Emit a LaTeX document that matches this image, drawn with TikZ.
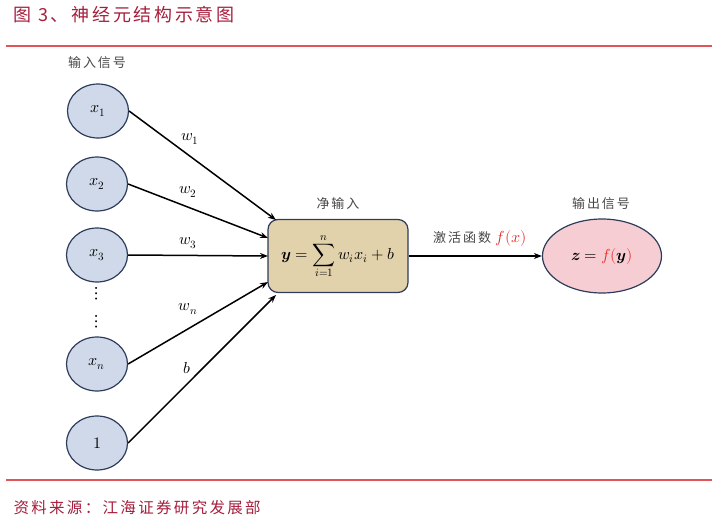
\documentclass[tikz,border=0pt]{standalone}
\usepackage{fontspec}
\usepackage{unicode-math}
\setmathfont{Latin Modern Math}
\newfontfamily\cjk[LetterSpace=15]{Noto Sans CJK SC}
\usetikzlibrary{arrows.meta,shapes.geometric}
\definecolor{titlered}{RGB}{165,30,60}
\definecolor{rulered}{RGB}{225,85,90}
\definecolor{inblue}{RGB}{207,217,234}
\definecolor{edgeblue}{RGB}{45,60,90}
\definecolor{boxtan}{RGB}{226,210,172}
\definecolor{outpink}{RGB}{246,205,210}
\definecolor{labgray}{RGB}{70,70,70}
\definecolor{fred}{RGB}{235,40,40}
\tikzset{
  innode/.style={ellipse,draw=edgeblue,fill=inblue,line width=1.2pt,minimum width=61pt,minimum height=54pt,inner sep=0pt,font=\fontsize{16}{18}\selectfont},
  sumbox/.style={rectangle,rounded corners=10pt,draw=edgeblue,fill=boxtan,line width=1.2pt,minimum width=140pt,minimum height=73pt,inner sep=0pt},
  outnode/.style={ellipse,draw=edgeblue,fill=outpink,line width=1.2pt,minimum width=119pt,minimum height=74pt,inner sep=0pt},
  conn/.style={-{Stealth[length=8pt,width=6pt]},line width=1.5pt,black},
  wlab/.style={font=\fontsize{16}{18}\selectfont},
  captext/.style={font=\cjk\fontsize{13}{15}\selectfont,text=labgray},
  redrule/.style={draw=rulered,line width=1.2pt}
}
\begin{document}
\begin{tikzpicture}[x=1pt,y=-1pt]
\useasboundingbox (0,0) rectangle (718,522);
% title and rules
\node[anchor=west,text=titlered,font=\cjk\fontsize{18}{20}\selectfont] (title) at (10,15) {图 3、神经元结构示意图};
\coordinate (r1a) at (6,46); \coordinate (r1b) at (712,46);
\draw[redrule] (r1a) -- (r1b);
\coordinate (r2a) at (6,480); \coordinate (r2b) at (712,480);
\draw[redrule] (r2a) -- (r2b);
\node[anchor=west,text=titlered,font=\cjk\fontsize{15.5}{17}\selectfont] (src) at (10,508) {资料来源：江海证券研究发展部};
% captions
\node[captext] (incap) at (97,63) {输入信号};
\node[captext] (netcap) at (338,204) {净输入};
\node[captext] (outcap) at (601,204) {输出信号};
% inputs
\node[innode] (x1) at (98,111) {$x_1$};
\node[innode] (x2) at (97,184) {$x_2$};
\node[innode] (x3) at (97,255) {$x_3$};
\node[innode] (xn) at (97,364) {$x_n$};
\node[innode] (one) at (97,443) {$1$};
\node[inner sep=0pt] (d1) at (97,294) {\fontsize{19}{19}\selectfont$\symbf{\vdots}$};
\node[inner sep=0pt] (d2) at (97,322) {\fontsize{19}{19}\selectfont$\symbf{\vdots}$};
% sum box
\node[sumbox] (sum) at (338,256) {\fontsize{16}{18}\selectfont$\symbfit{y}=\displaystyle\sum_{i=1}^{n} w_i x_i + b$};
% output
\node[outnode] (out) at (602,256) {\fontsize{16}{18}\selectfont$\symbfit{z}=\textcolor{fred}{f(}\symbfit{y}\textcolor{fred}{)}$};
% connections
\coordinate (t1) at (276,220);
\coordinate (t2) at (268,238);
\coordinate (t3) at (268,256);
\coordinate (tn) at (268,282);
\coordinate (tb) at (276,295);
\draw[conn] (x1.east) -- (t1);
\draw[conn] (x2.east) -- (t2);
\draw[conn] (x3.east) -- (t3);
\draw[conn] (xn.east) -- (tn);
\draw[conn] (one.east) -- (tb);
\draw[conn] (sum.east) -- (out.west);
% labels
\node[wlab] (lw1) at (190,139) {$w_1$};
\node[wlab] (lw2) at (188,192) {$w_2$};
\node[wlab] (lw3) at (188,243) {$w_3$};
\node[wlab] (lwn) at (188,309) {$w_n$};
\node[wlab] (lb) at (187,368) {$b$};
\node[captext,anchor=center] (act) at (480,238) {激活函数 \textcolor{fred}{\fontsize{16}{18}\selectfont$f(x)$}};
\end{tikzpicture}
\end{document}
